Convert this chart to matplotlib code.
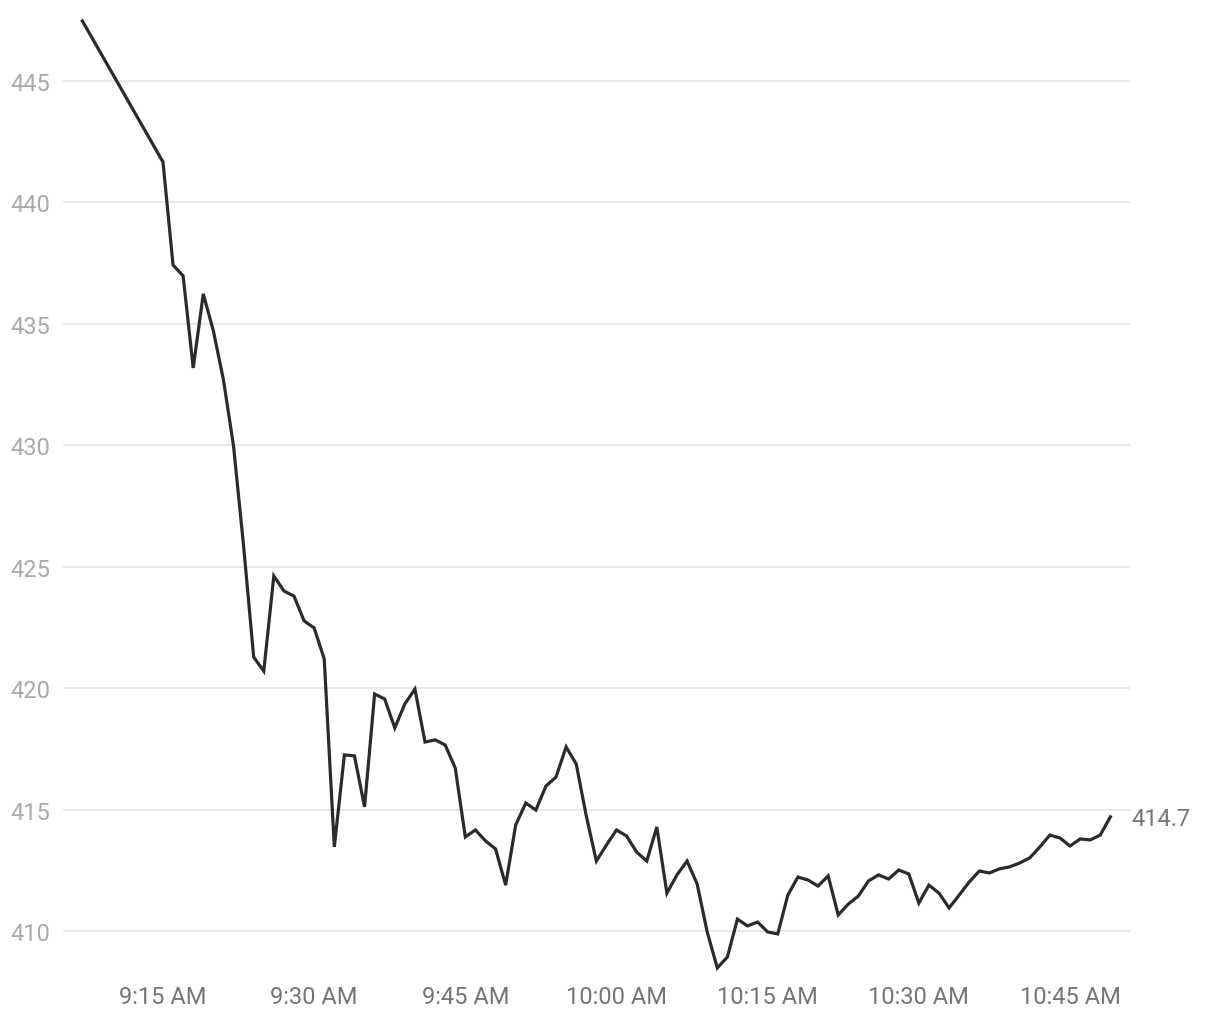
import matplotlib
matplotlib.use("Agg")
import matplotlib.pyplot as plt

plt.rcParams['font.family'] = ['Roboto', 'DejaVu Sans']

# minutes after midnight: first print at 9:07, then every minute 9:15 .. 10:49
start_time = "9:07 AM"
minutes = [9 * 60 + 7] + list(range(9 * 60 + 15, 10 * 60 + 50))
prices = [
    447.47,
    441.66, 437.42, 436.97, 433.18, 436.23, 434.71, 432.69, 429.97, 425.85, 421.28,
    420.70, 424.62, 424.00, 423.79, 422.77, 422.48, 421.20, 413.46, 417.25, 417.21,
    415.11, 419.76, 419.55, 418.36, 419.35, 419.96, 417.78, 417.87, 417.66, 416.71,
    413.87, 414.16, 413.71, 413.38, 411.89, 414.37, 415.27, 414.98, 415.97, 416.34,
    417.58, 416.88, 414.74, 412.88, 413.54, 414.16, 413.91, 413.25, 412.88, 414.28,
    411.56, 412.31, 412.88, 411.94, 409.96, 408.48, 408.93, 410.49, 410.21, 410.37,
    409.96, 409.88, 411.48, 412.22, 412.10, 411.85, 412.27, 410.66, 411.11, 411.44,
    412.06, 412.31, 412.14, 412.51, 412.35, 411.15, 411.89, 411.56, 410.95, 411.48,
    412.02, 412.47, 412.39, 412.56, 412.64, 412.80, 413.01, 413.46, 413.95, 413.83,
    413.50, 413.79, 413.75, 413.95, 414.70,
]
x_tick_minutes = [555, 570, 585, 600, 615, 630, 645]
x_tick_labels = ["9:15 AM", "9:30 AM", "9:45 AM", "10:00 AM", "10:15 AM", "10:30 AM", "10:45 AM"]
y_ticks = [410, 415, 420, 425, 430, 435, 440, 445]
last_label = "414.7"

fig = plt.figure(figsize=(12.2, 10.2), dpi=100)
ax = fig.add_axes([63 / 1220, 45 / 1020, (1130 - 63) / 1220, (1010 - 45) / 1020])

ax.plot(minutes, prices, color="#2b2b2f", lw=2.3, solid_joinstyle="miter", zorder=3)

ax.set_xlim(545.08, 650.95)
ax.set_ylim(408.23, 447.96)

ax.set_yticks(y_ticks)
ax.set_yticklabels([str(v) for v in y_ticks])
ax.set_xticks(x_tick_minutes)
ax.set_xticklabels(x_tick_labels)

ax.grid(axis="y", color="#e6e6e6", lw=1.3, zorder=0)
ax.grid(axis="x", visible=False)
for s in ax.spines.values():
    s.set_visible(False)

ax.tick_params(axis="y", length=0, pad=38, labelsize=17, labelcolor="#aaaaaa")
for lab in ax.get_yticklabels():
    lab.set_horizontalalignment("left")
ax.tick_params(axis="x", length=0, pad=8, labelsize=17, labelcolor="#757575")

ax.annotate(last_label, xy=(1, prices[-1]), xycoords=("axes fraction", "data"),
            xytext=(1, -2), textcoords="offset pixels",
            ha="left", va="center", fontsize=17, color="#777777")

fig.savefig("out.png", dpi=100)
